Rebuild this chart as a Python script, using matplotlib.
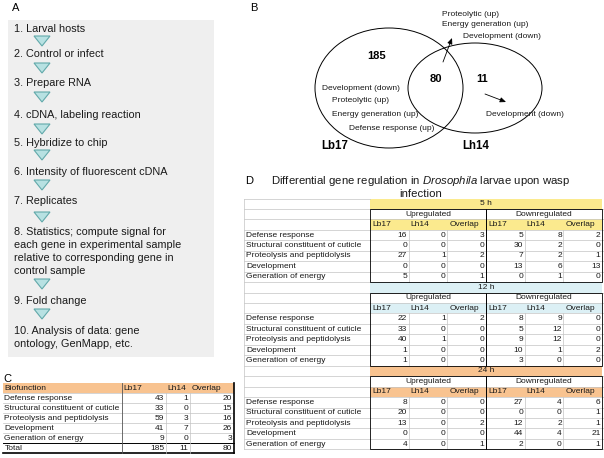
"""Composite figure: microarray workflow, Venn diagram and gene-function tables."""

import matplotlib

matplotlib.use("Agg")
import matplotlib.pyplot as plt
from matplotlib.patches import Ellipse, Polygon, Rectangle

plt.rcParams["font.family"] = ["Liberation Sans", "DejaVu Sans"]
plt.rcParams["mathtext.fontset"] = "custom"
plt.rcParams["mathtext.rm"] = "Liberation Sans"
plt.rcParams["mathtext.it"] = "Liberation Sans:italic"

# ---- data -------------------------------------------------------------
steps = [
    "1. Larval hosts",
    "2. Control or infect",
    "3. Prepare RNA",
    "4. cDNA, labeling reaction",
    "5. Hybridize to chip",
    "6. Intensity of fluorescent cDNA",
    "7. Replicates",
    "8. Statistics; compute signal for\neach gene in experimental sample\n"
    "relative to corresponding gene in\ncontrol sample",
    "9. Fold change",
    "10. Analysis of data: gene\nontology, GenMapp, etc.",
]

venn_counts = {"Lb17": 185, "overlap": 80, "Lh14": 11}
venn_lb17_terms = ["Development (down)", "Proteolytic (up)",
                   "Energy generation (up)", "Defense response (up)"]
venn_overlap_terms = ["Proteolytic (up)", "Energy generation (up)", "Development (down)"]
venn_lh14_terms = ["Development (down)"]

biofunctions = ["Defense response", "Structural constituent of cuticle",
                "Proteolysis and peptidolysis", "Development", "Generation of energy"]
wasps = ["Lb17", "Lh14", "Overlap"]

c_lb17 = [43, 33, 59, 41, 9]
c_lh14 = [1, 0, 3, 7, 0]
c_overlap = [20, 15, 16, 26, 3]
c_total = [185, 11, 80]

timepoints = ["5 h", "12 h", "24 h"]
up_lb17 = [[16, 0, 27, 0, 5], [22, 33, 40, 1, 1], [8, 20, 13, 0, 4]]
up_lh14 = [[0, 0, 1, 0, 0], [1, 0, 1, 0, 0], [0, 0, 0, 0, 0]]
up_overlap = [[3, 0, 2, 0, 1], [2, 0, 0, 0, 0], [0, 0, 2, 0, 1]]
down_lb17 = [[5, 30, 7, 13, 0], [8, 5, 9, 10, 3], [27, 0, 12, 44, 2]]
down_lh14 = [[8, 2, 2, 6, 1], [9, 12, 12, 1, 0], [4, 0, 2, 4, 0]]
down_overlap = [[2, 0, 1, 13, 0], [0, 0, 0, 2, 0], [6, 1, 1, 21, 1]]

# ---- styles -----------------------------------------------------------
ORANGE = "#f8c390"
YELLOW = "#fbea8e"
CYAN = "#dcf0f5"
GRID = "#c4c4c4"
INK = "#1a1a1a"
block_colors = [YELLOW, CYAN, ORANGE]
FS = 6.0

fig = plt.figure(figsize=(6.04, 4.58), dpi=100)
ax = fig.add_axes([0, 0, 1, 1])
ax.set_xlim(0, 604)
ax.set_ylim(458, 0)
ax.axis("off")

# ---- panel A: workflow -------------------------------------------------
ax.text(12, 8, "A", fontsize=8, va="center")
ax.add_patch(Rectangle((8, 20), 206, 337, facecolor="#efefef", edgecolor="none"))
step_y = [29, 54, 83, 115, 143, 172, 201, 232, 301, 331]
arrow_y = [41, 68, 97, 129, 155, 185, 217, 284, 314]
for txt, y in zip(steps, step_y):
    for k, line in enumerate(txt.split("\n")):
        ax.text(14, y + 13 * k, line, fontsize=7.8, va="center", color=INK)
for y in arrow_y:
    ax.add_patch(Polygon([(34, y - 5), (50, y - 5), (42, y + 5)], closed=True,
                         facecolor="#b7e1e2", edgecolor="#62a9aa", lw=0.8))

# ---- panel B: Venn -----------------------------------------------------
ax.text(250, 8, "B", fontsize=8, va="center")
ax.add_patch(Ellipse((389, 88), 148, 120, fill=False, edgecolor="black", lw=0.7))
ax.add_patch(Ellipse((475, 88), 134, 90, fill=False, edgecolor="black", lw=0.7))
ax.text(377, 56, str(venn_counts["Lb17"]), fontsize=8, fontweight="bold", ha="center", va="center")
ax.text(436, 79, str(venn_counts["overlap"]), fontsize=8, fontweight="bold", ha="center", va="center")
ax.text(482, 79, str(venn_counts["Lh14"]), fontsize=8, fontweight="bold", ha="center", va="center")
ax.text(335, 146, "Lb17", fontsize=8.3, fontweight="bold", ha="center", va="center")
ax.text(476, 146, "Lh14", fontsize=8.3, fontweight="bold", ha="center", va="center")
for txt, (x, y) in zip(venn_lb17_terms, [(361, 88), (360, 100), (375, 114), (392, 128)]):
    ax.text(x, y, txt, fontsize=FS, ha="center", va="center", color=INK)
for txt, (x, y) in zip(venn_overlap_terms, [(442, 15), (442, 25), (463, 36)]):
    ax.text(x, y, txt, fontsize=FS, ha="left", va="center", color=INK)
ax.text(486, 115, venn_lh14_terms[0], fontsize=FS, ha="left", va="center", color=INK)
arrow_kw = dict(arrowstyle="-|>,head_length=0.35,head_width=0.15", color="black", lw=0.6,
                shrinkA=0, shrinkB=0)
ax.annotate("", xy=(452, 38), xytext=(443, 62), arrowprops=arrow_kw)
ax.annotate("", xy=(506, 102), xytext=(485, 94), arrowprops=arrow_kw)

# ---- panel C: summary table --------------------------------------------
ax.text(3, 379, "C", fontsize=8, va="center")
c_cols = [3, 122, 166, 190, 234]
c_top, c_h = 383, 10
c_rows = [["Biofunction"] + wasps]
for i, name in enumerate(biofunctions):
    c_rows.append([name, c_lb17[i], c_lh14[i], c_overlap[i]])
c_rows.append(["Total"] + c_total)
ax.add_patch(Rectangle((c_cols[0], c_top), c_cols[-1] - c_cols[0], c_h,
                       facecolor=ORANGE, edgecolor="none"))
for r, row in enumerate(c_rows):
    y0 = c_top + r * c_h
    yc = y0 + c_h / 2
    if 0 < r < len(c_rows) - 1:
        ax.plot([c_cols[0], c_cols[-1]], [y0, y0], color=GRID, lw=0.5)
    for j, val in enumerate(row):
        if r == 0 or j == 0:
            ax.text(c_cols[j] + 1.5, yc, str(val), fontsize=FS, va="center", color=INK)
        else:
            ax.text(c_cols[j + 1] - 2, yc, str(val), fontsize=FS, ha="right", va="center",
                    color=INK)
c_bottom = c_top + len(c_rows) * c_h
ax.plot([c_cols[0], c_cols[-1]], [c_bottom - c_h] * 2, color="black", lw=0.7)
ax.plot([c_cols[0], c_cols[-1]], [c_bottom] * 2, color="black", lw=1.2)
ax.plot([c_cols[1]] * 2, [c_top, c_bottom], color="#555555", lw=0.6)
for x in c_cols[2:4]:
    ax.plot([x, x], [c_top + c_h, c_bottom], color=GRID, lw=0.5)
ax.plot([c_cols[-1]] * 2, [c_top, c_bottom], color="black", lw=1.2)

# ---- panel D: time-course table ----------------------------------------
ax.text(245, 181, "D", fontsize=8, va="center")
ax.text(421, 181, r"Differential gene regulation in $\mathit{Drosophila}$ larvae upon wasp",
        fontsize=8.2, ha="center", va="center", color=INK)
ax.text(421, 194, "infection", fontsize=8.2, ha="center", va="center", color=INK)

d_left, d_label_right = 244, 370
d_sub = 38.67
d_cols = [d_label_right + k * d_sub for k in range(7)]
d_top, d_h = 198.5, 10.45
for b, tp in enumerate(timepoints):
    b0 = d_top + b * 8 * d_h
    color = block_colors[b]
    # time header and sub-column header fills
    ax.add_patch(Rectangle((d_label_right, b0), d_cols[-1] - d_label_right, d_h,
                           facecolor=color, edgecolor="none"))
    ax.add_patch(Rectangle((d_label_right, b0 + 2 * d_h), d_cols[-1] - d_label_right, d_h,
                           facecolor=color, edgecolor="none"))
    ax.text((d_cols[0] + d_cols[-1]) / 2, b0 + d_h / 2, tp, fontsize=FS, ha="center",
            va="center", color=INK)
    ax.text((d_cols[0] + d_cols[3]) / 2, b0 + 1.5 * d_h, "Upregulated", fontsize=FS,
            ha="center", va="center", color=INK)
    ax.text((d_cols[3] + d_cols[6]) / 2, b0 + 1.5 * d_h, "Downregulated", fontsize=FS,
            ha="center", va="center", color=INK)
    for g in range(2):
        for k, w in enumerate(wasps):
            ax.text(d_cols[3 * g + k] + 2, b0 + 2.5 * d_h, w, fontsize=FS, va="center",
                    color=INK)
    series = [up_lb17[b], up_lh14[b], up_overlap[b], down_lb17[b], down_lh14[b], down_overlap[b]]
    for i, name in enumerate(biofunctions):
        yc = b0 + (3 + i + 0.5) * d_h
        ax.text(d_left + 2, yc, name, fontsize=FS, va="center", color=INK)
        for k, s in enumerate(series):
            ax.text(d_cols[k + 1] - 1.5, yc, str(s[i]), fontsize=FS, ha="right", va="center",
                    color=INK)
    # grid lines
    for r in range(8):
        y = b0 + r * d_h
        x1 = d_label_right if r == 0 else 604
        ax.plot([d_left, x1], [y, y], color=GRID, lw=0.5, zorder=1)
    for x in d_cols[1:3] + d_cols[4:6]:
        ax.plot([x, x], [b0 + 3 * d_h, b0 + 8 * d_h], color=GRID, lw=0.5)
    for g in range(2):
        ax.add_patch(Rectangle((d_cols[3 * g], b0 + d_h), 3 * d_sub, 7 * d_h, fill=False,
                               edgecolor="black", lw=0.6, zorder=3))
ax.plot([d_left, d_left], [d_top, d_top + 24 * d_h], color=GRID, lw=0.5)
ax.plot([d_left, 604], [d_top + 24 * d_h] * 2, color=GRID, lw=0.5)

fig.savefig("out.png", dpi=100)
